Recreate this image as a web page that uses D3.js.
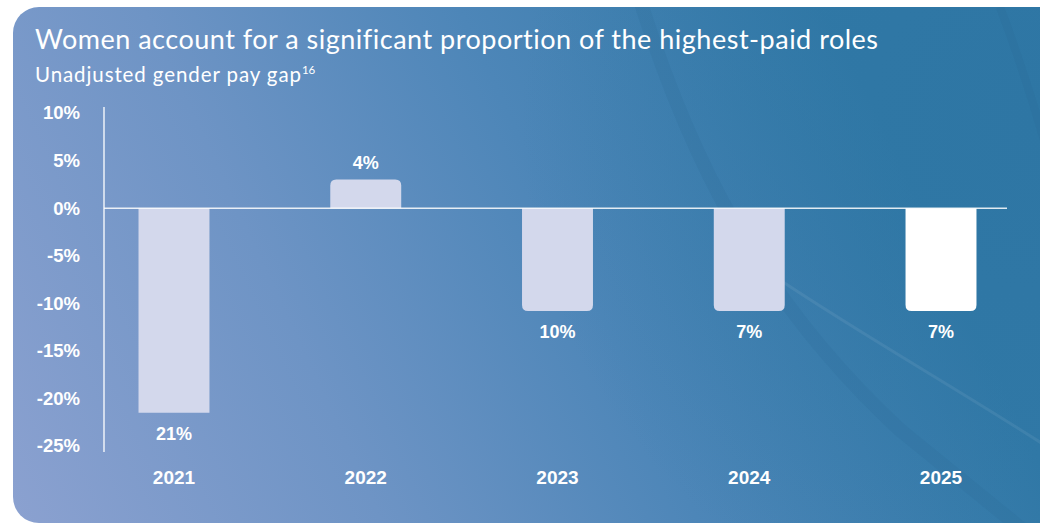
<!DOCTYPE html>
<html>
<head>
<meta charset="utf-8">
<script src="https://cdn.jsdelivr.net/npm/d3@7"></script>
<style>
  html, body { margin: 0; padding: 0; background: #ffffff; }
  svg { display: block; }
</style>
</head>
<body>
<svg id="chart" width="1040" height="524"></svg>
<script>
// ---- data ----
const years = ["2021", "2022", "2023", "2024", "2025"];
const barValues = [-21.5, 3, -10.8, -10.8, -10.8];      // bar lengths as drawn (%)
const valueLabels = ["21%", "4%", "10%", "7%", "7%"];   // labels printed on chart
const yTicks = [10, 5, 0, -5, -10, -15, -20, -25];
const titleText = "Women account for a significant proportion of the highest-paid roles";
const subtitleText = "Unadjusted gender pay gap";
const footnoteMark = "16";

const svg = d3.select("#chart");

// ---- background card ----
const defs = svg.append("defs");
const grad = defs.append("linearGradient").attr("id", "bg")
  .attr("gradientUnits", "userSpaceOnUse")
  .attr("x1", 13).attr("y1", 523).attr("x2", 880).attr("y2", 120);
grad.append("stop").attr("offset", "0%").attr("stop-color", "#8ba1d0");
grad.append("stop").attr("offset", "35%").attr("stop-color", "#6e94c5");
grad.append("stop").attr("offset", "65%").attr("stop-color", "#4d86b8");
grad.append("stop").attr("offset", "100%").attr("stop-color", "#3179a7");

const shade = defs.append("radialGradient").attr("id", "shade")
  .attr("gradientUnits", "userSpaceOnUse")
  .attr("cx", 1040).attr("cy", 120).attr("r", 520);
shade.append("stop").attr("offset", "0%").attr("stop-color", "#2c74a2").attr("stop-opacity", 0.6);
shade.append("stop").attr("offset", "100%").attr("stop-color", "#2c74a2").attr("stop-opacity", 0);

defs.append("clipPath").attr("id", "cardClip")
  .append("rect").attr("x", 13).attr("y", 7).attr("width", 1052).attr("height", 516).attr("rx", 26);

const card = svg.append("g").attr("clip-path", "url(#cardClip)");
card.append("rect").attr("x", 13).attr("y", 7).attr("width", 1052).attr("height", 516)
  .attr("fill", "url(#bg)");
card.append("rect").attr("x", 13).attr("y", 7).attr("width", 1052).attr("height", 516)
  .attr("fill", "url(#shade)");
// subtle decorative swooshes
card.append("path").attr("d", "M640,0 C690,160 760,300 900,430 L1060,560")
  .attr("fill", "none").attr("stroke", "#2a6c98").attr("stroke-opacity", 0.18).attr("stroke-width", 14);
card.append("path").attr("d", "M780,280 C870,340 960,390 1060,455")
  .attr("fill", "none").attr("stroke", "#ffffff").attr("stroke-opacity", 0.07).attr("stroke-width", 3);
card.append("path").attr("d", "M1000,7 C1020,60 1040,120 1060,200")
  .attr("fill", "none").attr("stroke", "#2a6c98").attr("stroke-opacity", 0.25).attr("stroke-width", 8);

// ---- titles ----
svg.append("text").attr("x", 35).attr("y", 49)
  .attr("font-family", "Lato, 'Open Sans', sans-serif").attr("font-size", 27)
  .attr("letter-spacing", 0.5)
  .attr("fill", "#ffffff").text(titleText);
const sub = svg.append("text").attr("x", 35).attr("y", 82)
  .attr("font-family", "Lato, 'Open Sans', sans-serif").attr("font-size", 20.5)
  .attr("letter-spacing", 0.9)
  .attr("fill", "#ffffff");
sub.append("tspan").text(subtitleText);
sub.append("tspan").attr("font-size", 11.5).attr("letter-spacing", 0).attr("dy", -8).text(footnoteMark);

// ---- scales ----
const x = d3.scaleBand().domain(years).range([104, 1011]).paddingInner(0.63).paddingOuter(0.18);
const y = d3.scaleLinear().domain([-25, 10]).range([446, 113]);

const labelFont = "'Liberation Sans', Arial, sans-serif";

// y axis
const yAxis = svg.append("g").attr("transform", "translate(104,0)")
  .call(d3.axisLeft(y).tickValues(yTicks).tickSize(0).tickPadding(24).tickFormat(d => d + "%"));
yAxis.select(".domain").remove();
yAxis.selectAll("text").attr("font-family", labelFont).attr("font-weight", "bold")
  .attr("font-size", 18.5).attr("fill", "#ffffff");
svg.append("line").attr("x1", 104).attr("x2", 104).attr("y1", y(10) - 6).attr("y2", y(-25) + 6)
  .attr("stroke", "#ffffff").attr("stroke-width", 1.3);

// x axis labels
const xAxis = svg.append("g").attr("transform", "translate(0,484)")
  .call(d3.axisBottom(x).tickSize(0).tickPadding(0));
xAxis.select(".domain").remove();
xAxis.selectAll("text").attr("dy", 0).attr("font-family", labelFont).attr("font-weight", "bold")
  .attr("font-size", 19).attr("fill", "#ffffff");

// ---- bars ----
function barPath(x0, w, yZero, yEnd, r) {
  const dir = yEnd > yZero ? 1 : -1;
  const len = Math.abs(yEnd - yZero);
  r = Math.min(r, len / 2, w / 2);
  return `M${x0},${yZero} L${x0},${yEnd - dir * r} Q${x0},${yEnd} ${x0 + r},${yEnd}` +
         ` L${x0 + w - r},${yEnd} Q${x0 + w},${yEnd} ${x0 + w},${yEnd - dir * r} L${x0 + w},${yZero} Z`;
}
const data = years.map((yr, i) => ({ yr, v: barValues[i], label: valueLabels[i], i }));
svg.append("g").selectAll("path").data(data).join("path")
  .attr("d", d => barPath(x(d.yr), x.bandwidth(), y(0), y(d.v), d.i === 0 ? 0 : 6))
  .attr("fill", d => d.i === years.length - 1 ? "#ffffff" : "#d3d8ec");

// zero line
svg.append("line").attr("x1", 104).attr("x2", 1007).attr("y1", y(0)).attr("y2", y(0))
  .attr("stroke", "#ffffff").attr("stroke-opacity", 0.85).attr("stroke-width", 1.5);

// value labels
svg.append("g").selectAll("text").data(data).join("text")
  .attr("x", d => x(d.yr) + x.bandwidth() / 2)
  .attr("y", d => d.v >= 0 ? y(d.v) - 11 : y(d.v) + 27)
  .attr("text-anchor", "middle")
  .attr("font-family", labelFont).attr("font-weight", "bold").attr("font-size", 18)
  .attr("fill", "#ffffff").text(d => d.label);
</script>
</body>
</html>
